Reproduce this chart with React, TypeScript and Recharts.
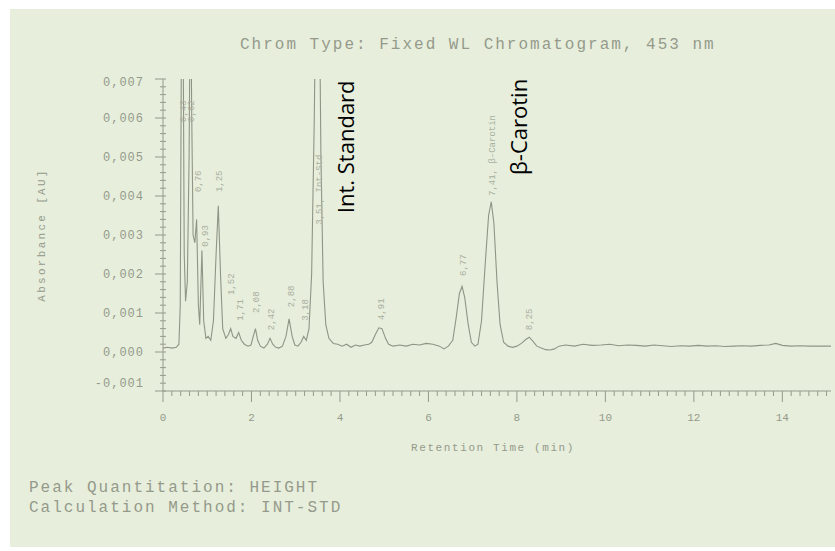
import { ComposedChart, Line, Scatter, XAxis, YAxis } from 'recharts'

// chromatogram trace: [retention time (min), absorbance (AU)]
const trace: [number, number][] = [
  [0.0, 0.0001], [0.1, 0.00012], [0.2, 0.0001], [0.3, 0.00012], [0.36, 0.0002],
  [0.39, 0.0012], [0.42, 0.009], [0.45, 0.0095], [0.48, 0.0025], [0.51, 0.0013],
  [0.55, 0.0018], [0.59, 0.005], [0.62, 0.01], [0.65, 0.006], [0.68, 0.003],
  [0.72, 0.0028], [0.76, 0.0034], [0.8, 0.0012], [0.83, 0.0007], [0.88, 0.0026],
  [0.92, 0.0008], [0.97, 0.00035], [1.02, 0.0004], [1.08, 0.0003], [1.14, 0.0008],
  [1.2, 0.0025], [1.25, 0.00375], [1.3, 0.002], [1.35, 0.0006], [1.42, 0.00035],
  [1.48, 0.00045], [1.53, 0.0006], [1.58, 0.0004], [1.65, 0.00035], [1.71, 0.0005],
  [1.77, 0.0003], [1.84, 0.0002], [1.92, 0.00015], [1.99, 0.00018], [2.04, 0.0004],
  [2.09, 0.0006], [2.14, 0.0003], [2.2, 0.00015], [2.28, 0.0001], [2.36, 0.0002],
  [2.42, 0.00035], [2.48, 0.0002], [2.55, 0.00012], [2.62, 0.0001], [2.7, 0.00015],
  [2.78, 0.0004], [2.85, 0.00085], [2.92, 0.0004], [2.98, 0.00018], [3.05, 0.00015],
  [3.12, 0.00025], [3.18, 0.0004], [3.24, 0.0003], [3.3, 0.0006], [3.36, 0.002],
  [3.42, 0.006], [3.47, 0.011], [3.52, 0.011], [3.57, 0.005], [3.62, 0.0018],
  [3.68, 0.0007], [3.75, 0.00035], [3.85, 0.00022], [3.95, 0.0002], [4.05, 0.00015],
  [4.15, 0.0002], [4.25, 0.00012], [4.35, 0.00018], [4.45, 0.00015], [4.55, 0.00018],
  [4.65, 0.0002], [4.72, 0.00025], [4.8, 0.00045], [4.88, 0.00062], [4.95, 0.0006],
  [5.03, 0.00035], [5.1, 0.0002], [5.2, 0.00015], [5.35, 0.00018], [5.5, 0.00015],
  [5.65, 0.0002], [5.8, 0.00018], [5.95, 0.00022], [6.1, 0.0002], [6.25, 0.00015],
  [6.35, 0.00008], [6.45, 0.00015], [6.55, 0.0003], [6.63, 0.0009], [6.7, 0.0015],
  [6.76, 0.00168], [6.82, 0.0014], [6.9, 0.0007], [6.97, 0.00025], [7.05, 0.00015],
  [7.12, 0.0002], [7.2, 0.0008], [7.28, 0.0022], [7.36, 0.0035], [7.42, 0.00385],
  [7.48, 0.0033], [7.55, 0.0018], [7.62, 0.0007], [7.7, 0.00025], [7.8, 0.00015],
  [7.9, 0.00012], [8.0, 0.00015], [8.1, 0.00022], [8.2, 0.00032], [8.28, 0.00038],
  [8.36, 0.00028], [8.45, 0.00015], [8.55, 0.0001], [8.65, 0.00006], [8.75, 0.00005],
  [8.85, 0.00008], [8.95, 0.00015], [9.1, 0.00018], [9.3, 0.00015], [9.5, 0.0002],
  [9.7, 0.00017], [9.9, 0.00018], [10.1, 0.0002], [10.3, 0.00016], [10.5, 0.00018],
  [10.7, 0.00017], [10.9, 0.00015], [11.1, 0.00018], [11.3, 0.00016], [11.5, 0.00014],
  [11.7, 0.00016], [11.9, 0.00015], [12.1, 0.00017], [12.3, 0.00015], [12.5, 0.00016],
  [12.7, 0.00014], [12.9, 0.00015], [13.1, 0.00016], [13.3, 0.00015], [13.5, 0.00017],
  [13.7, 0.00018], [13.85, 0.00022], [14.0, 0.00017], [14.2, 0.00015], [14.4, 0.00016],
  [14.6, 0.00015], [14.8, 0.00015], [15.1, 0.00015],
]

// small integrator labels above the peaks: [time, label start level, text]
const peakLabels: [number, number, string][] = [
  [0.43, 0.0059, '0,43'],
  [0.62, 0.0059, '0,62'],
  [0.76, 0.0041, '0,76'],
  [0.93, 0.0027, '0,93'],
  [1.25, 0.0041, '1,25'],
  [1.52, 0.00146, '1,52'],
  [1.71, 0.0008, '1,71'],
  [2.08, 0.001, '2,08'],
  [2.42, 0.00056, '2,42'],
  [2.88, 0.00115, '2,88'],
  [3.18, 0.0008, '3,18'],
  [3.51, 0.00326, '3,51, Int-Std'],
  [4.91, 0.00082, '4,91'],
  [6.77, 0.00195, '6,77'],
  [7.41, 0.004, '7,41, β-Carotin'],
  [8.25, 0.00056, '8,25'],
]

// handwritten-style annotations added over the scan
const annotations: [number, number, string][] = [
  [3.51, 0.00356, 'Int. Standard'],
  [7.41, 0.00454, 'β-Carotin'],
]

const xMajor = [0, 2, 4, 6, 8, 10, 12, 14]
const yMajor = [-0.001, 0, 0.001, 0.002, 0.003, 0.004, 0.005, 0.006, 0.007]
const xTicks = Array.from({ length: 76 }, (_, i) => Math.round(i * 2) / 10)
const yTicks = Array.from({ length: 41 }, (_, i) => Math.round((-0.001 + i * 0.0002) * 1e5) / 1e5)

const traceData = trace.map(([t, v]) => ({ t, v }))
const peakLabelData = peakLabels.map(([t, v, text]) => ({ t, v, text }))
const annotationData = annotations.map(([t, v, text]) => ({ t, v, text }))

const ink = '#959a8b'
const mono = '"Liberation Mono", "DejaVu Sans Mono", monospace'

const isMajor = (list: number[], v: number) => list.some((m) => Math.abs(m - v) < 1e-9)

function YTick({ x, y, payload }: any) {
  const v = payload.value
  const major = isMajor(yMajor, v)
  let dy = 0
  if (v > 0.0069) dy = 3
  if (v < -0.0009) dy = -8
  return (
    <g>
      <line x1={major ? x - 8 : x - 3} x2={x + 3} y1={y} y2={y} stroke={ink} strokeWidth={1} />
      {major && (
        <text
          x={x - 19}
          y={y + 4 + dy}
          textAnchor="end"
          fill={ink}
          style={{ fontFamily: mono, fontSize: 12, letterSpacing: 1 }}
        >
          {v.toFixed(3).replace('.', ',').replace('-0,000', '0,000')}
        </text>
      )}
    </g>
  )
}

function XTick({ x, y, payload }: any) {
  const v = payload.value
  const major = isMajor(xMajor, v)
  return (
    <g>
      <line x1={x} x2={x} y1={y} y2={y + (major ? 11 : 5)} stroke={ink} strokeWidth={1} />
      {major && (
        <text x={x} y={y + 30} textAnchor="middle" fill={ink} style={{ fontFamily: mono, fontSize: 11 }}>
          {v}
        </text>
      )}
    </g>
  )
}

function PeakLabel({ cx, cy, payload }: any) {
  return (
    <text
      x={cx + 4}
      y={cy}
      transform={`rotate(-90 ${cx + 4} ${cy})`}
      fill="#a9ae9f"
      style={{ fontFamily: mono, fontSize: 9 }}
    >
      {payload.text}
    </text>
  )
}

function Annotation({ cx, cy, payload }: any) {
  const x = cx + 36
  return (
    <text
      x={x}
      y={cy}
      transform={`rotate(-90 ${x} ${cy})`}
      fill="#000"
      style={{ fontFamily: '"Open Sans", "Noto Sans", sans-serif', fontSize: 22 }}
    >
      {payload.text}
    </text>
  )
}

const textStyle = {
  position: 'absolute' as const,
  fontFamily: mono,
  fontSize: 16,
  letterSpacing: 2,
  lineHeight: '16px',
  color: ink,
  whiteSpace: 'pre' as const,
}

export default function App() {
  return (
    <div style={{ position: 'absolute', left: 0, top: 0, width: 835, height: 551, background: '#fff' }}>
      <div style={{ position: 'absolute', left: 10, top: 9, width: 825, height: 538, background: '#e7eedc' }} />
      <div style={{ ...textStyle, left: 240, top: 37 }}>Chrom Type: Fixed WL Chromatogram, 453 nm</div>
      <div style={{ ...textStyle, left: 29, top: 480 }}>Peak Quantitation: HEIGHT</div>
      <div style={{ ...textStyle, left: 29, top: 500 }}>Calculation Method: INT-STD</div>
      <div style={{ position: 'absolute', left: 0, top: 0 }}>
        <ComposedChart width={835} height={551} margin={{ top: 79, right: 4, left: 103, bottom: 130 }}>
          <XAxis
            type="number"
            dataKey="t"
            domain={[0, 15.1]}
            ticks={xTicks}
            interval={0}
            tickSize={0}
            tickMargin={0}
            tick={<XTick />}
            tickLine={false}
            stroke={ink}
            height={30}
            label={({ viewBox }: any) => (
              <text
                x={viewBox.x + viewBox.width / 2 - 4}
                y={viewBox.y + 60}
                textAnchor="middle"
                fill={ink}
                style={{ fontFamily: mono, fontSize: 11, letterSpacing: 1.6 }}
              >
                Retention Time (min)
              </text>
            )}
          />
          <YAxis
            type="number"
            domain={[-0.001, 0.007]}
            allowDataOverflow
            ticks={yTicks}
            interval={0}
            tickSize={0}
            tickMargin={0}
            tick={<YTick />}
            tickLine={false}
            stroke={ink}
            width={60}
            label={({ viewBox }: any) => {
              const cy = viewBox.y + viewBox.height / 2
              return (
                <text
                  x={45}
                  y={cy}
                  textAnchor="middle"
                  transform={`rotate(-90 45 ${cy})`}
                  fill={ink}
                  style={{ fontFamily: mono, fontSize: 11, letterSpacing: 2.3 }}
                >
                  Absorbance [AU]
                </text>
              )
            }}
          />
          <YAxis yAxisId="lab" type="number" domain={[-0.001, 0.007]} hide />
          <Line
            data={traceData}
            dataKey="v"
            type="linear"
            stroke="#8f9585"
            strokeWidth={1.1}
            dot={false}
            isAnimationActive={false}
          />
          <Scatter
            yAxisId="lab"
            data={peakLabelData}
            dataKey="v"
            shape={PeakLabel}
            isAnimationActive={false}
          />
          <Scatter
            yAxisId="lab"
            data={annotationData}
            dataKey="v"
            shape={Annotation}
            isAnimationActive={false}
          />
        </ComposedChart>
      </div>
    </div>
  )
}
